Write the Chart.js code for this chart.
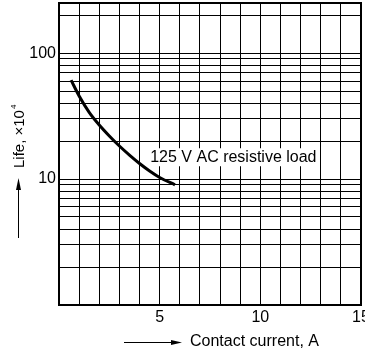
<!DOCTYPE html>
<html><head><meta charset="utf-8">
<script src="https://cdn.jsdelivr.net/npm/chart.js@4.4.0/dist/chart.umd.min.js"></script>
<style>html,body{margin:0;padding:0;background:#fff}#wrap{width:365px;height:355px}</style>
</head><body><div id="wrap"><canvas id="c" width="365" height="355"></canvas></div>
<script>
const currentA = [0.6, 1.0, 1.5, 2.0, 2.5, 3.0, 3.5, 4.0, 4.5, 5.0, 5.76];
const lifeE4   = [61, 45.7, 33.9, 26.9, 22, 18.3, 15.5, 13.3, 11.6, 10.3, 9.0];
const yTicks = [1,2,3,4,5,6,7,8,9,10,20,30,40,50,60,70,80,90,100,200];
const yLabels = [10, 100];
const xLabels = [5, 10, 15];
const curveLabel = "125 V AC resistive load";
const curveLabelAt = {x: 8.66, y: 14.9};
const xTitle = "Contact current, A";
const yTitle = "Life, \u00d710";
const yTitleSup = "4";

const FONT = "'Liberation Sans', Arial, sans-serif";

const deco = {
  id: 'deco',
  afterDatasetsDraw(chart) {
    const {ctx, chartArea: a, scales: {x, y}} = chart;
    ctx.save();
    ctx.font = "16px " + FONT;
    const px = x.getPixelForValue(curveLabelAt.x), py = y.getPixelForValue(curveLabelAt.y);
    const w = ctx.measureText(curveLabel).width;
    ctx.fillStyle = '#fff';
    ctx.fillRect(px - w/2 - 3, py - 9, w + 6, 18);
    ctx.fillStyle = '#000';
    ctx.textAlign = 'center'; ctx.textBaseline = 'middle';
    ctx.fillText(curveLabel, px, py);
    ctx.strokeStyle = '#000'; ctx.lineWidth = 2;
    ctx.strokeRect(a.left, a.top, a.right - a.left, a.bottom - a.top);
    ctx.font = "16px " + FONT;
    ctx.textAlign = 'left';
    const ty = 342;
    ctx.fillText(xTitle, 190, ty);
    ctx.lineWidth = 1;
    ctx.beginPath(); ctx.moveTo(124, ty + 0.5); ctx.lineTo(173, ty + 0.5); ctx.stroke();
    ctx.beginPath(); ctx.moveTo(182, ty + 0.5); ctx.lineTo(171, ty - 2); ctx.lineTo(171, ty + 3); ctx.closePath(); ctx.fill();
    ctx.save();
    ctx.translate(20, 168);
    ctx.rotate(-Math.PI/2);
    ctx.textAlign = 'left'; ctx.textBaseline = 'middle';
    ctx.font = "15px " + FONT;
    ctx.fillText(yTitle, 0, 0);
    const tw = ctx.measureText(yTitle).width;
    ctx.font = "8px " + FONT;
    ctx.fillText(yTitleSup, tw + 1, -6);
    ctx.restore();
    const ax = 18.5;
    ctx.beginPath(); ctx.moveTo(ax, 238); ctx.lineTo(ax, 188); ctx.stroke();
    ctx.beginPath(); ctx.moveTo(ax, 178); ctx.lineTo(ax - 2.5, 190); ctx.lineTo(ax + 2.5, 190); ctx.closePath(); ctx.fill();
    ctx.restore();
  }
};

new Chart(document.getElementById('c'), {
  type: 'line',
  data: {
    datasets: [{
      data: currentA.map((v, i) => ({x: v, y: lifeE4[i]})),
      borderColor: '#000', borderWidth: 3, pointRadius: 0,
      cubicInterpolationMode: 'monotone', fill: false
    }]
  },
  options: {
    responsive: false, animation: false, devicePixelRatio: 1,
    layout: {padding: {left: 0, top: 3, right: 4, bottom: 0}},
    plugins: {legend: {display: false}, tooltip: {enabled: false}},
    scales: {
      x: {
        type: 'linear', min: 0, max: 15,
        afterFit(s) { s.height = 50; s.paddingLeft = 0; s.paddingRight = 0; },
        ticks: {stepSize: 1, autoSkip: false, maxRotation: 0, color: '#000', padding: 3,
          font: {family: FONT, size: 16},
          callback: v => xLabels.includes(v) ? String(v) : ''},
        grid: {color: '#000', lineWidth: 1, drawTicks: false},
        border: {color: '#000', width: 2}
      },
      y: {
        type: 'logarithmic', min: 1, max: 250,
        afterFit(s) { s.width = 59; s.paddingTop = 0; s.paddingBottom = 0; },
        afterBuildTicks(s) { s.ticks = yTicks.map(v => ({value: v})); },
        ticks: {autoSkip: false, color: '#000', padding: 3,
          font: {family: FONT, size: 16},
          callback: v => yLabels.includes(v) ? String(v) : ''},
        grid: {color: '#000', lineWidth: 1, drawTicks: false},
        border: {color: '#000', width: 2}
      }
    }
  },
  plugins: [deco]
});
</script>
</body></html>
